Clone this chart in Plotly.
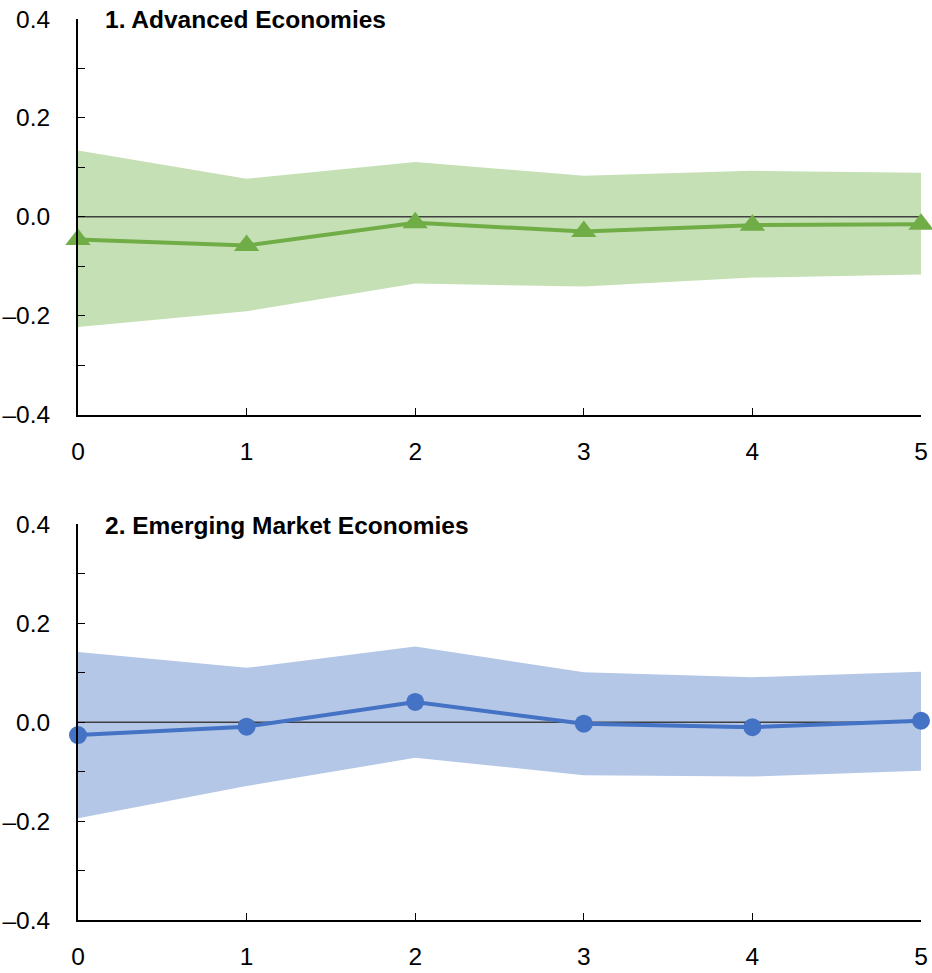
import plotly.graph_objects as go
from plotly.subplots import make_subplots

horizon = [0, 1, 2, 3, 4, 5]
x_tick_labels = ["0", "1", "2", "3", "4", "5"]

ae_title = "1. Advanced Economies"
ae_point = [-0.046, -0.058, -0.012, -0.030, -0.017, -0.015]
ae_upper = [0.134, 0.077, 0.111, 0.083, 0.093, 0.089]
ae_lower = [-0.223, -0.191, -0.135, -0.141, -0.123, -0.117]

eme_title = "2. Emerging Market Economies"
eme_point = [-0.026, -0.009, 0.041, -0.003, -0.010, 0.003]
eme_upper = [0.142, 0.110, 0.153, 0.101, 0.091, 0.102]
eme_lower = [-0.194, -0.129, -0.072, -0.107, -0.110, -0.098]

y_ticks = [-0.4, -0.2, 0.0, 0.2, 0.4]
y_tick_labels = ["\u20130.4", "\u20130.2", "0.0", "0.2", "0.4"]

FONT = "Liberation Sans, Arial, sans-serif"
FS = 24.5

fig = make_subplots(rows=2, cols=1, vertical_spacing=0.122)

panels = [
    (1, ae_point, ae_upper, ae_lower, "#70AD47", "#C5E0B4", "triangle-up", 22),
    (2, eme_point, eme_upper, eme_lower, "#4472C4", "#B4C7E7", "circle", 18),
]

for row, pt, up, lo, lc, fc, sym, ms in panels:
    fig.add_trace(go.Scatter(x=horizon, y=lo, mode="lines", line=dict(width=0, color=fc),
                             showlegend=False, hoverinfo="skip"), row=row, col=1)
    fig.add_trace(go.Scatter(x=horizon, y=up, mode="lines", line=dict(width=0, color=fc),
                             fill="tonexty", fillcolor=fc, showlegend=False, hoverinfo="skip"),
                  row=row, col=1)
    fig.add_trace(go.Scatter(x=[horizon[0], horizon[-1]], y=[0, 0], mode="lines",
                             line=dict(color="#404040", width=1.3), showlegend=False,
                             hoverinfo="skip"), row=row, col=1)
    fig.add_trace(go.Scatter(x=horizon, y=pt, mode="lines+markers",
                             line=dict(color=lc, width=4),
                             marker=dict(symbol=sym, size=ms, color=lc),
                             cliponaxis=False, showlegend=False), row=row, col=1)

for row in (1, 2):
    fig.update_xaxes(range=[0, 5], tickvals=horizon, ticktext=x_tick_labels,
                     ticks="inside", ticklen=7, tickwidth=1.3, tickcolor="black",
                     showline=True, linecolor="black", linewidth=2, showgrid=False,
                     zeroline=False, tickfont=dict(family=FONT, size=FS, color="black"),
                     ticklabelstandoff=14, ticklabeloverflow="allow",
                     automargin=False, row=row, col=1)
    fig.update_yaxes(range=[-0.4, 0.4], tickvals=y_ticks, ticktext=y_tick_labels,
                     ticks="inside", ticklen=7, tickwidth=1.3, tickcolor="black",
                     minor=dict(dtick=0.1, tick0=0, ticks="inside", ticklen=7,
                                tickwidth=1.3, tickcolor="black", showgrid=False),
                     showline=True, linecolor="black", linewidth=2, showgrid=False,
                     zeroline=False, tickfont=dict(family=FONT, size=FS, color="black"),
                     ticklabelstandoff=21, ticklabeloverflow="allow",
                     automargin=False, row=row, col=1)

fig.add_annotation(text="<b>" + ae_title + "</b>", xref="paper", yref="paper",
                   x=0.03, y=1.0, xanchor="left", yanchor="middle", showarrow=False,
                   font=dict(family=FONT, size=FS, color="black"))
fig.add_annotation(text="<b>" + eme_title + "</b>", xref="paper", yref="paper",
                   x=0.03, y=0.4384, xanchor="left", yanchor="middle", showarrow=False,
                   font=dict(family=FONT, size=FS, color="black"))

fig.update_layout(width=932, height=973, margin=dict(l=78, r=11, t=19, b=53, autoexpand=False),
                  plot_bgcolor="white", paper_bgcolor="white",
                  font=dict(family=FONT, color="black"))

fig.write_html("out.html", config={"displayModeBar": False},
               post_script="document.body.style.margin='0';document.body.style.overflow='hidden';")
